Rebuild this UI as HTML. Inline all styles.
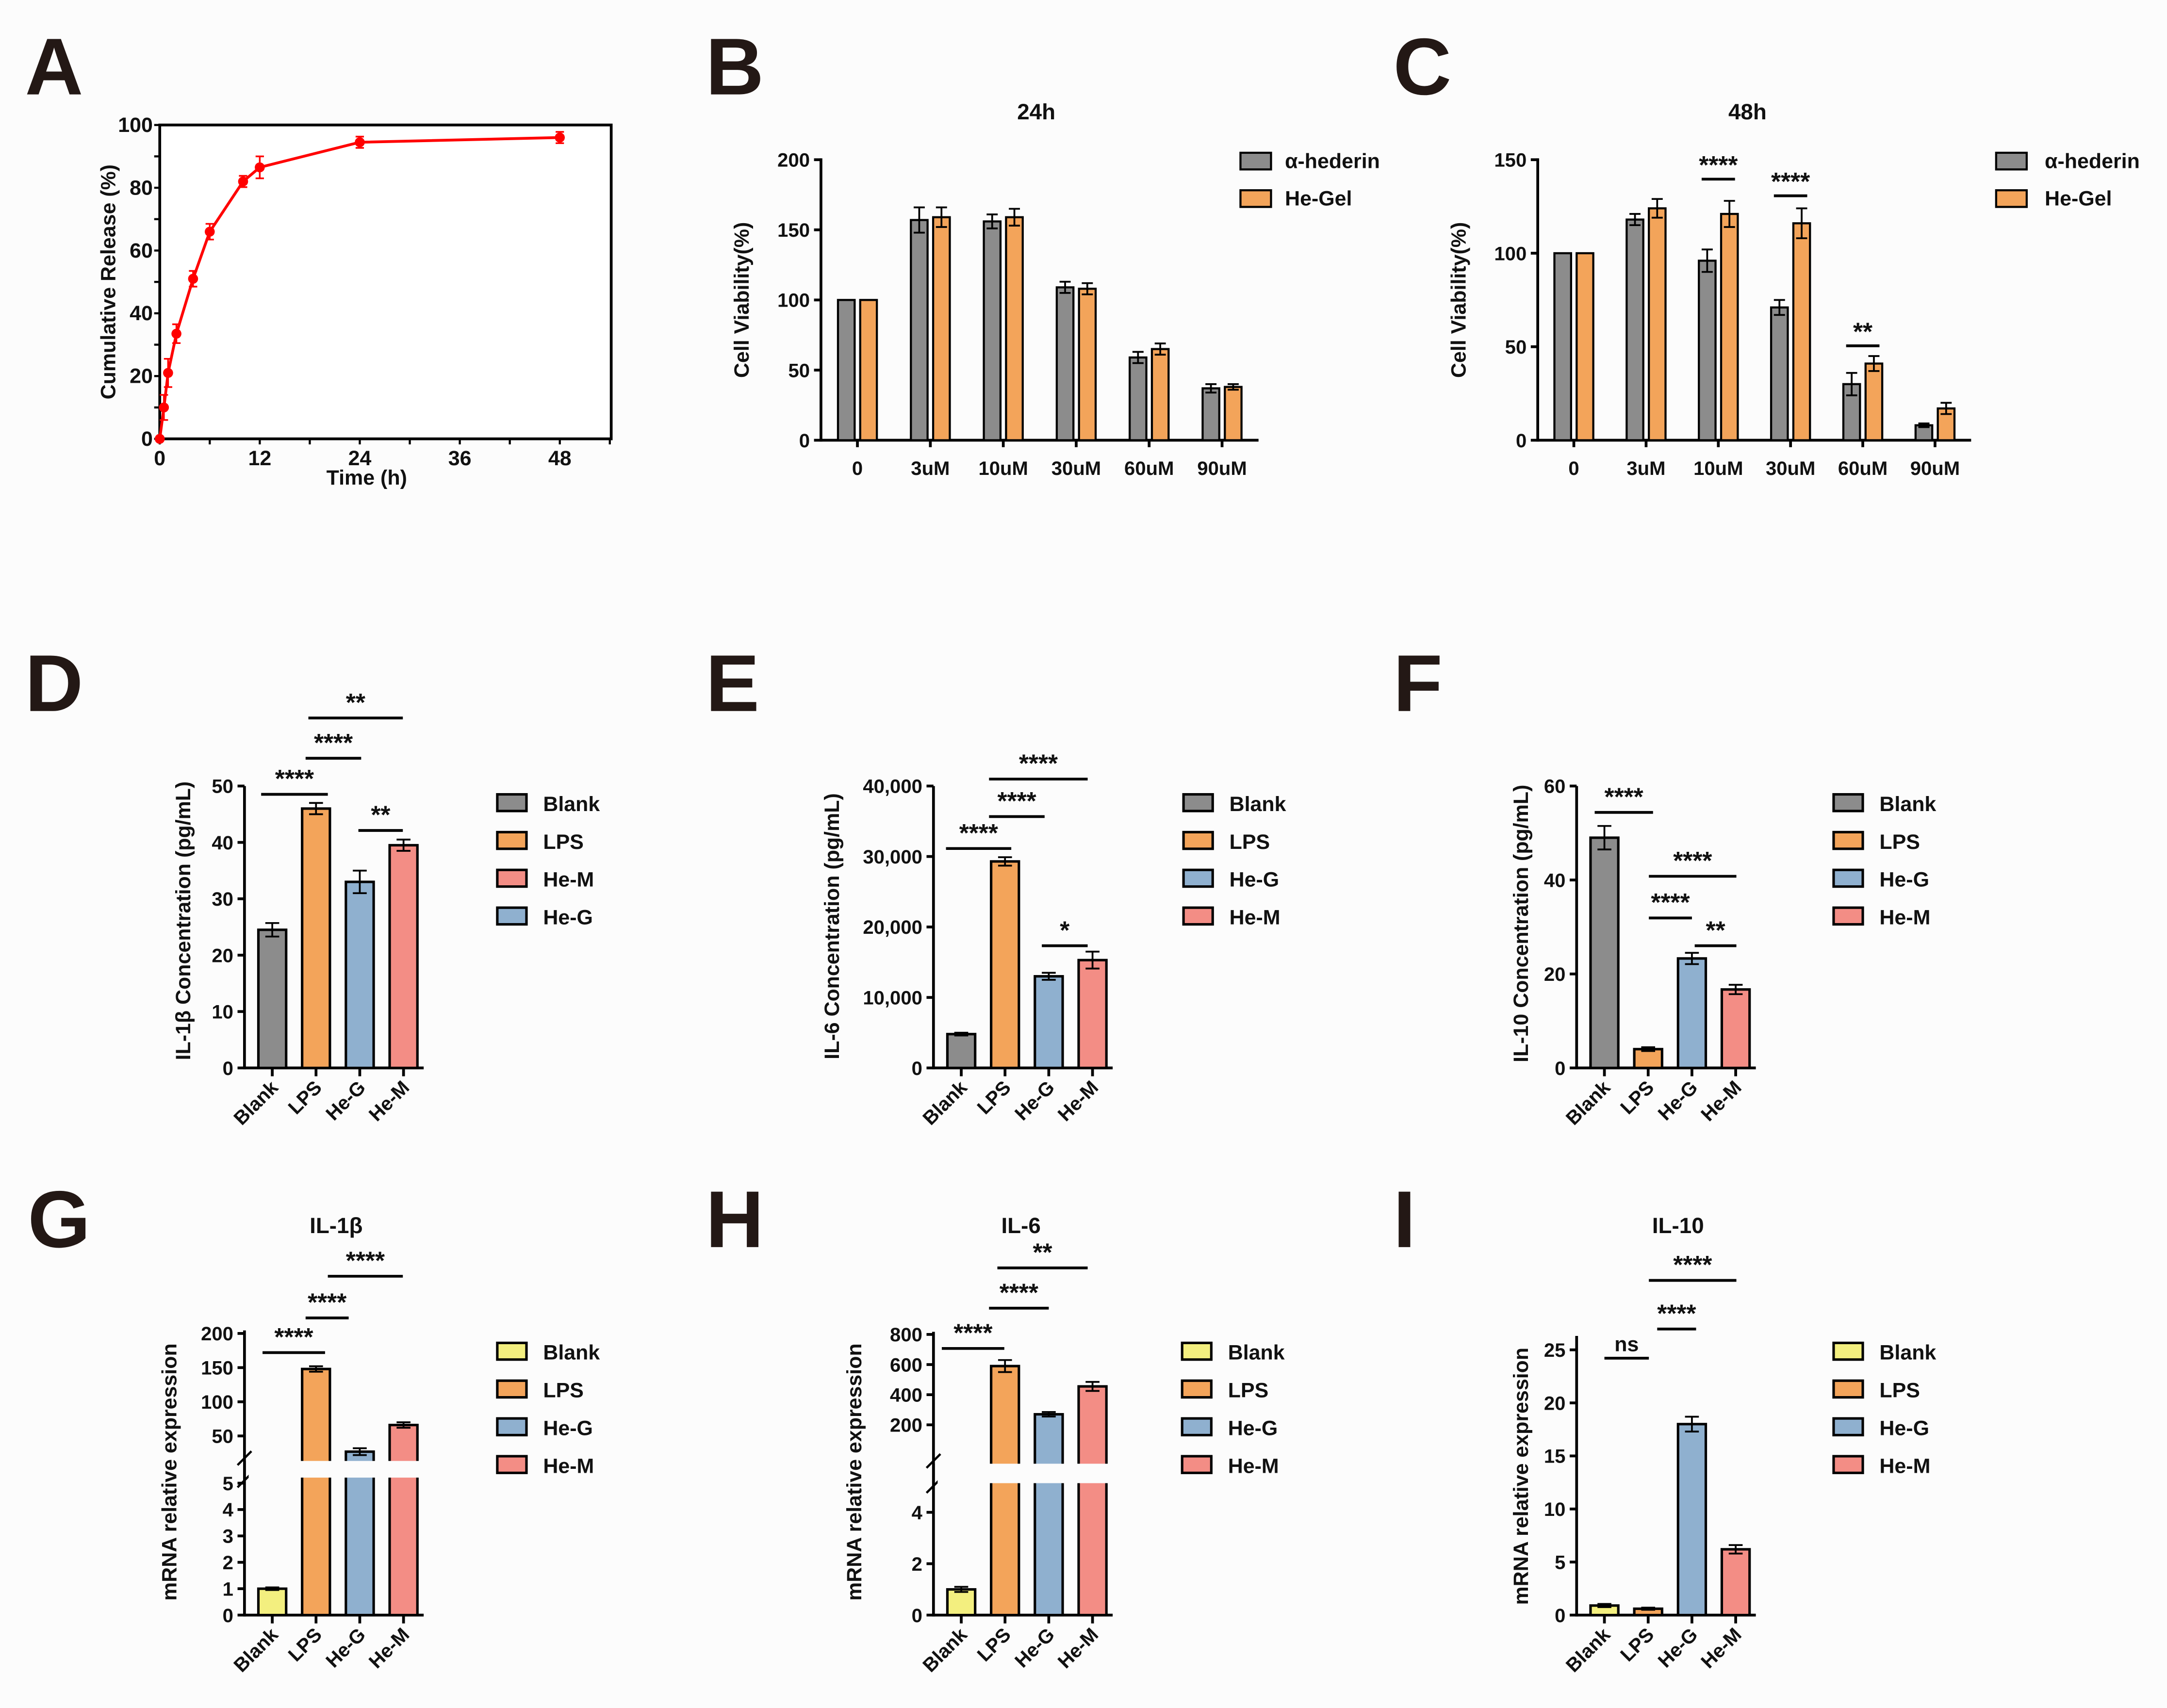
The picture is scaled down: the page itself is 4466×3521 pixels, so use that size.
<!DOCTYPE html>
<html><head><meta charset="utf-8"><style>
html,body{margin:0;padding:0;background:#fcfcfc;}
svg{display:block;font-family:"Liberation Sans",Arial,sans-serif;font-weight:bold;}
</style></head><body>
<svg id="fig" width="4466" height="3521" viewBox="0 0 1560 1229.9" xmlns="http://www.w3.org/2000/svg">
<rect width="1560" height="1230" fill="#fcfcfc"/>
</svg>
<script>
// Panel A data
const aTime=[0,0.5,1,2,4,6,10,12,24,48];
const aRelease=[0,10,21,33.5,51,66,82,86.5,94.5,96];
const aErr=[0,4,4.5,3,2.5,2.5,1.8,3.5,1.8,1.8];
const aXTicks=[0,12,24,36,48];
const aYTicks=[0,20,40,60,80,100];
// Panel B
const bGroups=['0','3uM','10uM','30uM','60uM','90uM'];
const bHed=[100,157,156,109,59,37];
const bHedErr=[0,9,5,4,4,3];
const bGel=[100,159,159,108,65,38];
const bGelErr=[0,7,6,4,4,2];
const bYTicks=[0,50,100,150,200];
// Panel C
const cHed=[100,118,96,71,30,8];
const cHedErr=[0,3,6,4,6,1];
const cGel=[100,124,121,116,41,17];
const cGelErr=[0,5,7,8,4,3];
const cYTicks=[0,50,100,150];
// D-I
const cats=['Blank','LPS','He-G','He-M'];
const dVals=[24.5,46,33,39.5];const dErr=[1.2,1,2,1];const dTicks=[0,10,20,30,40,50];
const eVals=[4800,29300,13000,15300];const eErr=[200,600,500,1200];const eTicks=[0,10000,20000,30000,40000];
const eTickLabels=['0','10,000','20,000','30,000','40,000'];
const fVals=[49,4,23.3,16.7];const fErr=[2.5,0.4,1.2,1];const fTicks=[0,20,40,60];
const gVals=[1,148,27,66];const gErr=[0.05,4,5,4];
const gLowTicks=[0,1,2,3,4,5];const gHighTicks=[50,100,150,200];
const hVals=[1,590,270,455];const hErr=[0.1,40,15,30];
const hLowTicks=[0,2,4];const hHighTicks=[200,400,600,800];
const iVals=[0.9,0.6,18,6.2];const iErr=[0.15,0.1,0.7,0.4];const iTicks=[0,5,10,15,20,25];

const NS='http://www.w3.org/2000/svg';
const svg=document.getElementById('fig');
function el(tag,attrs,parent,text){const e=document.createElementNS(NS,tag);for(const k in attrs)e.setAttribute(k,attrs[k]);if(text!==undefined)e.textContent=text;(parent||svg).appendChild(e);return e;}
function grp(name){const g=el('g',{});


return g;}
function line(g,x1,y1,x2,y2,w,c){return el('line',{x1,y1,x2,y2,stroke:c||'#000','stroke-width':w||2},g);}
function txt(g,x,y,s,size,anchor,extra){const t=el('text',Object.assign({x,y,'font-size':size,'text-anchor':anchor||'middle',fill:'#111'},extra||{}),g,s);return t;}
const GRAY='#8c8c8c',ORANGE='#f3a45a',BLUE='#8fb0cf',PINK='#f38d85',YELLOW='#f3ef7f';

const letters=[['A',18,68],['B',508,68],['C',1003,68],['D',18,512],['E',508,512],['F',1003,512],['G',20,898],['H',508,898],['I',1003,898]];
letters.forEach(l=>{const t=txt(svg,l[1],l[2],l[0],58,'start',{fill:'#231815'});

});

// ---------- Panel A ----------
(function(){
const g=grp('panel-a-release-chart');
const X0=115,X1=440,Y0=316,Y1=90;
const xs=v=>X0+v*(403-115)/48, ys=v=>Y0-v*(Y0-Y1)/100;
el('rect',{x:X0,y:Y1,width:X1-X0,height:Y0-Y1,fill:'#fff',stroke:'#000','stroke-width':2},g);
for(let v=0;v<=54;v+=6){line(g,xs(v),Y0,xs(v),Y0+4,1.5);}
aXTicks.forEach(v=>{txt(g,xs(v),Y0+19,String(v),15);});
for(let v=0;v<=100;v+=10){line(g,X0-4,ys(v),X0,ys(v),1.5);}
aYTicks.forEach(v=>{txt(g,X0-5,ys(v)+5,String(v),15,'end');});
txt(g,264,349,'Time (h)',15);
txt(g,83,203,'Cumulative Release (%)',15,'middle',{transform:'rotate(-90 83 203)'});
const pts=aTime.map((t,i)=>xs(t)+','+ys(aRelease[i])).join(' ');
const pl=el('polyline',{points:pts,fill:'none',stroke:'#f00','stroke-width':2},g);


aTime.forEach((t,i)=>{const x=xs(t);const yt=ys(aRelease[i]+aErr[i]),yb=ys(aRelease[i]-aErr[i]);
line(g,x,yt,x,yb,1.2,'#f00');line(g,x-3,yt,x+3,yt,1.2,'#f00');line(g,x-3,yb,x+3,yb,1.2,'#f00');
const c=el('circle',{cx:x,cy:ys(aRelease[i]),r:3.6,fill:'#f00'},g);

});
})();

// ---------- Panels B, C ----------
function groupedChart(name,X0,X1,Y0,Ytop,maxV,ticks,v1,e1,v2,e2,title,titleX,sigs,legX,legTX){
const g=grp(name);
const ys=v=>Y0-v*(Y0-Ytop)/maxV;
const step=(X1-X0)/6;
const cx=i=>X0+step*(i+0.5);
line(g,X0,Y0,X1,Y0,2);line(g,X0,Y0+1,X0,Ytop-1,2);
ticks.forEach(v=>{line(g,X0-5,ys(v),X0,ys(v),2);txt(g,X0-8,ys(v)+5,String(v),14,'end');});
bGroups.forEach((s,i)=>{line(g,cx(i),Y0,cx(i),Y0+5,2);txt(g,cx(i),Y0+25,s,14);});
function bar(x,v,e,col,nm){const r=el('rect',{x:x-6,y:ys(v),width:12,height:Y0-ys(v),fill:col,stroke:'#000','stroke-width':1.5},g);


if(e>0){line(g,x,ys(v+e),x,ys(v-e),1.3);line(g,x-4,ys(v+e),x+4,ys(v+e),1.3);line(g,x-4,ys(v-e),x+4,ys(v-e),1.3);}}
v1.forEach((v,i)=>bar(cx(i)-8,v,e1[i],GRAY,'bar-hederin'));
v2.forEach((v,i)=>bar(cx(i)+8,v,e2[i],ORANGE,'bar-he-gel'));
txt(g,titleX,86,title,16);
txt(g,X0-52,(Y0+Ytop)/2,'Cell Viability(%)',15,'middle',{transform:'rotate(-90 '+(X0-52)+' '+((Y0+Ytop)/2)+')'});
sigs.forEach(s=>{line(g,cx(s[0])-12,s[2],cx(s[0])+12,s[2],2);txt(g,cx(s[0]),s[2]-4,s[1],18);});
[[GRAY,'α-hederin',116],[ORANGE,'He-Gel',143]].forEach(l=>{const r=el('rect',{x:legX,y:l[2]-6,width:22,height:12,fill:l[0],stroke:'#000','stroke-width':1.5},g);


txt(g,legTX,l[2]+5,l[1],15,'start');});
}
groupedChart('panel-b-24h-chart',591,906,317,115,200,bYTicks,bHed,bHedErr,bGel,bGelErr,'24h',746,[],893,925);
groupedChart('panel-c-48h-chart',1107,1419,317,115,150,cYTicks,cHed,cHedErr,cGel,cGelErr,'48h',1258,[[2,'****',129],[3,'****',141],[4,'**',249]],1437,1472);

// ---------- Panels D-I ----------
function catChart(o){
const g=grp(o.name);
const X0=o.x0,Y0=o.y0;const cx=i=>X0+20+i*31.5;const bw=20;
const ys=o.ys;
line(g,X0,Y0,X0+129,Y0,2);
if(o.brk){line(g,X0,Y0+1,X0,o.brk[1],2);line(g,X0,o.brk[0],X0,o.top,2);
line(g,X0-5,o.brk[1]+3,X0+5,o.brk[1]-7,1.6);line(g,X0-5,o.brk[0]+7,X0+5,o.brk[0]-3,1.6);}
else line(g,X0,Y0+1,X0,o.top,2);
o.ticks.forEach((v,i)=>{line(g,X0-5,ys(v),X0,ys(v),2);txt(g,X0-8,ys(v)+5,o.tickLabels?o.tickLabels[i]:String(v),14,'end');});
cats.forEach((s,i)=>{line(g,cx(i),Y0,cx(i),Y0+6,2);txt(g,cx(i)+5,Y0+15,s,14,'end',{transform:'rotate(-45 '+(cx(i)+5)+' '+(Y0+15)+')'});});
o.vals.forEach((v,i)=>{const x=cx(i);const r=el('rect',{x:x-bw/2,y:ys(v),width:bw,height:Y0-ys(v),fill:o.colors[i],stroke:'#000','stroke-width':1.8},g);


const e=o.err[i];line(g,x,ys(v+e),x,ys(v-e),1.3);line(g,x-5,ys(v+e),x+5,ys(v+e),1.3);line(g,x-5,ys(v-e),x+5,ys(v-e),1.3);});
if(o.brk){el('rect',{x:X0+3,y:o.brk[1],width:130,height:o.brk[0]-o.brk[1],fill:'#fcfcfc'},g);}
if(o.title)txt(g,o.titleX,888,o.title,16);
txt(g,o.ytx,o.yty,o.ytitle,15,'middle',{transform:'rotate(-90 '+o.ytx+' '+o.yty+')'});
o.sigs.forEach(s=>{line(g,s[0],s[3],s[1],s[3],2);txt(g,(s[0]+s[1])/2,s[3]-5,s[2],s[2]==='ns'?15:18);});
o.legend.forEach((l,i)=>{const y=o.legY+i*27.2;const r=el('rect',{x:o.legX,y:y-6,width:21,height:12,fill:l[0],stroke:'#000','stroke-width':1.8},g);


txt(g,o.legX+33,y+6,l[1],15,'start');});
}
const lin=(y0,top,max)=>v=>y0-v*(y0-top)/max;
catChart({name:'panel-d-il1b-elisa',x0:176,y0:769,top:566,ys:lin(769,566,50),ticks:dTicks,vals:dVals,err:dErr,colors:[GRAY,ORANGE,BLUE,PINK],
 ytitle:'IL-1β Concentration (pg/mL)',ytx:137,yty:663,sigs:[[188,236,'****',572],[220,260,'****',546],[222,290,'**',517],[258,290,'**',598]],
 legX:358,legY:578,legend:[[GRAY,'Blank'],[ORANGE,'LPS'],[PINK,'He-M'],[BLUE,'He-G']]});
catChart({name:'panel-e-il6-elisa',x0:672,y0:769,top:566,ys:lin(769,566,40000),ticks:eTicks,tickLabels:eTickLabels,vals:eVals,err:eErr,colors:[GRAY,ORANGE,BLUE,PINK],
 ytitle:'IL-6 Concentration (pg/mL)',ytx:604,yty:667,sigs:[[681,728,'****',611],[712,752,'****',588],[712,783,'****',561],[750,783,'*',681]],
 legX:852,legY:578,legend:[[GRAY,'Blank'],[ORANGE,'LPS'],[BLUE,'He-G'],[PINK,'He-M']]});
catChart({name:'panel-f-il10-elisa',x0:1135,y0:769,top:566,ys:lin(769,566,60),ticks:fTicks,vals:fVals,err:fErr,colors:[GRAY,ORANGE,BLUE,PINK],
 ytitle:'IL-10 Concentration (pg/mL)',ytx:1100,yty:665,sigs:[[1148,1190,'****',585],[1187,1250,'****',631],[1187,1218,'****',661],[1220,1250,'**',681]],
 legX:1320,legY:578,legend:[[GRAY,'Blank'],[ORANGE,'LPS'],[BLUE,'He-G'],[PINK,'He-M']]});
function brokenScale(y0,lowTopY,lowMax,upBaseY,upBaseV,perUnit){return v=>v<=lowMax?y0-v*(y0-lowTopY)/lowMax:upBaseY-(v-upBaseV)*perUnit;}
const gScale=brokenScale(1163,1068,5,1034,50,24.6/50);
catChart({name:'panel-g-il1b-mrna',x0:176,y0:1163,top:958,ys:gScale,brk:[1064,1052],ticks:gLowTicks.concat(gHighTicks),vals:gVals,err:gErr,colors:[YELLOW,ORANGE,BLUE,PINK],
 title:'IL-1β',titleX:242,ytitle:'mRNA relative expression',ytx:127,yty:1060,sigs:[[189,234,'****',974],[220,251,'****',949],[236,290,'****',919]],
 legX:358,legY:973,legend:[[YELLOW,'Blank'],[ORANGE,'LPS'],[BLUE,'He-G'],[PINK,'He-M']]});
const hScale=brokenScale(1163,1089,4,1026,200,21.7/200);
catChart({name:'panel-h-il6-mrna',x0:672,y0:1163,top:959,ys:hScale,brk:[1068,1054],ticks:hLowTicks.concat(hHighTicks),vals:hVals,err:hErr,colors:[YELLOW,ORANGE,BLUE,PINK],
 title:'IL-6',titleX:735,ytitle:'mRNA relative expression',ytx:620,yty:1060,sigs:[[678,723,'****',971],[712,755,'****',942],[718,783,'**',913]],
 legX:851,legY:973,legend:[[YELLOW,'Blank'],[ORANGE,'LPS'],[BLUE,'He-G'],[PINK,'He-M']]});
catChart({name:'panel-i-il10-mrna',x0:1135,y0:1163,top:962,ys:lin(1163,972,25),ticks:iTicks,vals:iVals,err:iErr,colors:[YELLOW,ORANGE,BLUE,PINK],
 title:'IL-10',titleX:1208,ytitle:'mRNA relative expression',ytx:1100,yty:1063,sigs:[[1155,1187,'ns',978],[1193,1221,'****',957],[1187,1250,'****',922]],
 legX:1320,legY:973,legend:[[YELLOW,'Blank'],[ORANGE,'LPS'],[BLUE,'He-G'],[PINK,'He-M']]});
</script>
</body></html>
